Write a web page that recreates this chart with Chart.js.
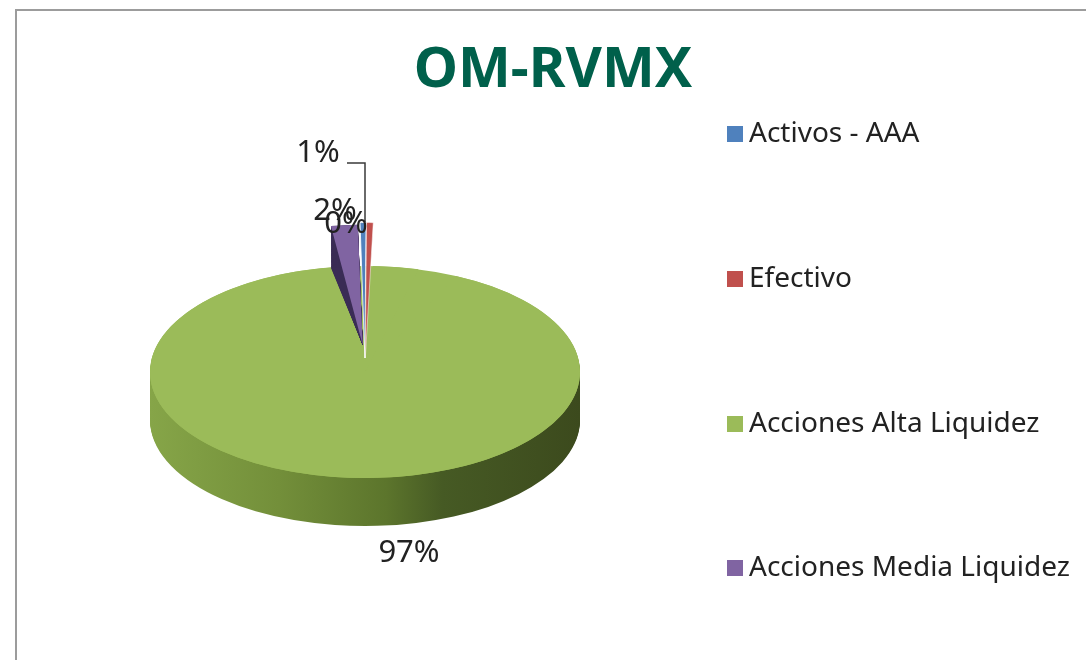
<!DOCTYPE html>
<html>
<head>
<meta charset="utf-8">
<style>
html,body{margin:0;padding:0;background:#fff;overflow:hidden;width:1086px;height:660px}
#frame{position:absolute;left:15px;top:9px;width:1200px;height:800px;border:2px solid #9c9c9c;box-sizing:border-box}
#c{position:absolute;left:0;top:0}
</style>
<script src="https://cdn.jsdelivr.net/npm/chart.js@4"></script>
</head>
<body>
<div id="frame"></div>
<canvas id="c" width="1086" height="660"></canvas>
<script>
const categories = ["Activos - AAA", "Efectivo", "Acciones Alta Liquidez", "Acciones Media Liquidez"];
const values = [0.45, 0.5, 97.05, 2.0];
const colors = ["#4F81BD", "#C0504D", "#9BBB59", "#8064A2"];

const FONT = '"Noto Sans", sans-serif';
const CX = 365, CY = 372, DEPTH = 48;
const lift = [14, 14, 0, 27];
const squash = [0.63, 0.63, 0.493, 0.56];
const legendPos = {x: 727, text: 749, y: [134, 279, 424, 568], box: 16};
const labelPos = [[346, 224], [318, 153], [409, 553], [335, 211]];

function drawAs(el, ctx, over) {
  const o = el.options;
  el.options = Object.assign({}, o, over || {});
  el.draw(ctx);
  el.options = o;
}
function place(ctx, el, i, sy) {
  const mid = (el.startAngle + el.endAngle) / 2;
  ctx.translate(CX + Math.cos(mid) * lift[i], CY + Math.sin(mid) * lift[i]);
  ctx.scale(1, sy);
  ctx.translate(-el.x, -el.y);
}

const pie3d = {
  id: 'pie3d',
  beforeDatasetsDraw(chart) {
    const ctx = chart.ctx;
    const arcs = chart.getDatasetMeta(0).data;
    const big = arcs[2], wedge = arcs[3];
    const r = big.outerRadius;

    // side wall of the main slice
    ctx.save();
    place(ctx, big, 2, squash[2]);
    const g = ctx.createLinearGradient(big.x - r, 0, big.x + r, 0);
    g.addColorStop(0, '#86a548');
    g.addColorStop(0.3, '#738f3a');
    g.addColorStop(0.55, '#5c752c');
    g.addColorStop(0.68, '#465a24');
    g.addColorStop(1, '#3c4a1d');
    for (let d = DEPTH; d > 0; d--) {
      ctx.save();
      ctx.translate(0, d / squash[2]);
      drawAs(big, ctx, {backgroundColor: g, borderWidth: 0});
      ctx.restore();
    }
    // top face; the copy closes the gap left behind by the pulled-out slices
    drawAs(big, ctx);
    ctx.translate(big.x, big.y);
    ctx.rotate(0.4);
    ctx.translate(-big.x, -big.y);
    drawAs(big, ctx);
    ctx.restore();

    // dark wall of the purple slice
    for (let s = squash[3]; s > 0.36; s -= 0.004) {
      ctx.save();
      place(ctx, wedge, 3, s);
      drawAs(wedge, ctx, {backgroundColor: '#3a2c55', borderWidth: 0});
      ctx.restore();
    }
    [3, 0, 1].forEach(i => {
      ctx.save();
      place(ctx, arcs[i], i, squash[i]);
      drawAs(arcs[i], ctx);
      ctx.restore();
    });
    return false;
  },
  afterDraw(chart) {
    const ctx = chart.ctx;
    const total = values.reduce((a, b) => a + b, 0);
    ctx.save();
    // leader line of the 1% label
    ctx.strokeStyle = '#3a3a3a';
    ctx.lineWidth = 1.5;
    ctx.beginPath();
    ctx.moveTo(347, 163); ctx.lineTo(365, 163); ctx.lineTo(365, 222);
    ctx.stroke();
    // percentage labels
    ctx.fillStyle = '#222222';
    ctx.font = '31px ' + FONT;
    ctx.textAlign = 'center';
    ctx.textBaseline = 'middle';
    values.forEach((v, i) => {
      ctx.fillText(Math.round(v / total * 100) + '%', labelPos[i][0], labelPos[i][1]);
    });
    // legend
    ctx.font = '28px ' + FONT;
    ctx.textAlign = 'left';
    categories.forEach((name, i) => {
      const y = legendPos.y[i];
      ctx.fillStyle = colors[i];
      ctx.fillRect(legendPos.x, y - legendPos.box / 2, legendPos.box, legendPos.box);
      ctx.fillStyle = '#222222';
      ctx.fillText(name, legendPos.text, y);
    });
    ctx.restore();
  }
};

new Chart(document.getElementById('c'), {
  type: 'pie',
  data: {
    labels: categories,
    datasets: [{
      data: values,
      backgroundColor: colors,
      borderColor: '#ffffff',
      borderWidth: [1, 0.6, 0, 0]
    }]
  },
  options: {
    responsive: false,
    animation: false,
    radius: 215,
    rotation: -1.3,
    layout: {padding: {left: 20, top: 37}},
    plugins: {
      legend: {display: false},
      tooltip: {enabled: false},
      title: {
        display: true,
        text: 'OM-RVMX',
        color: '#00604B',
        font: {family: FONT, size: 56, weight: 'bold'},
        padding: 0
      }
    }
  },
  plugins: [pie3d]
});
</script>
</body>
</html>
